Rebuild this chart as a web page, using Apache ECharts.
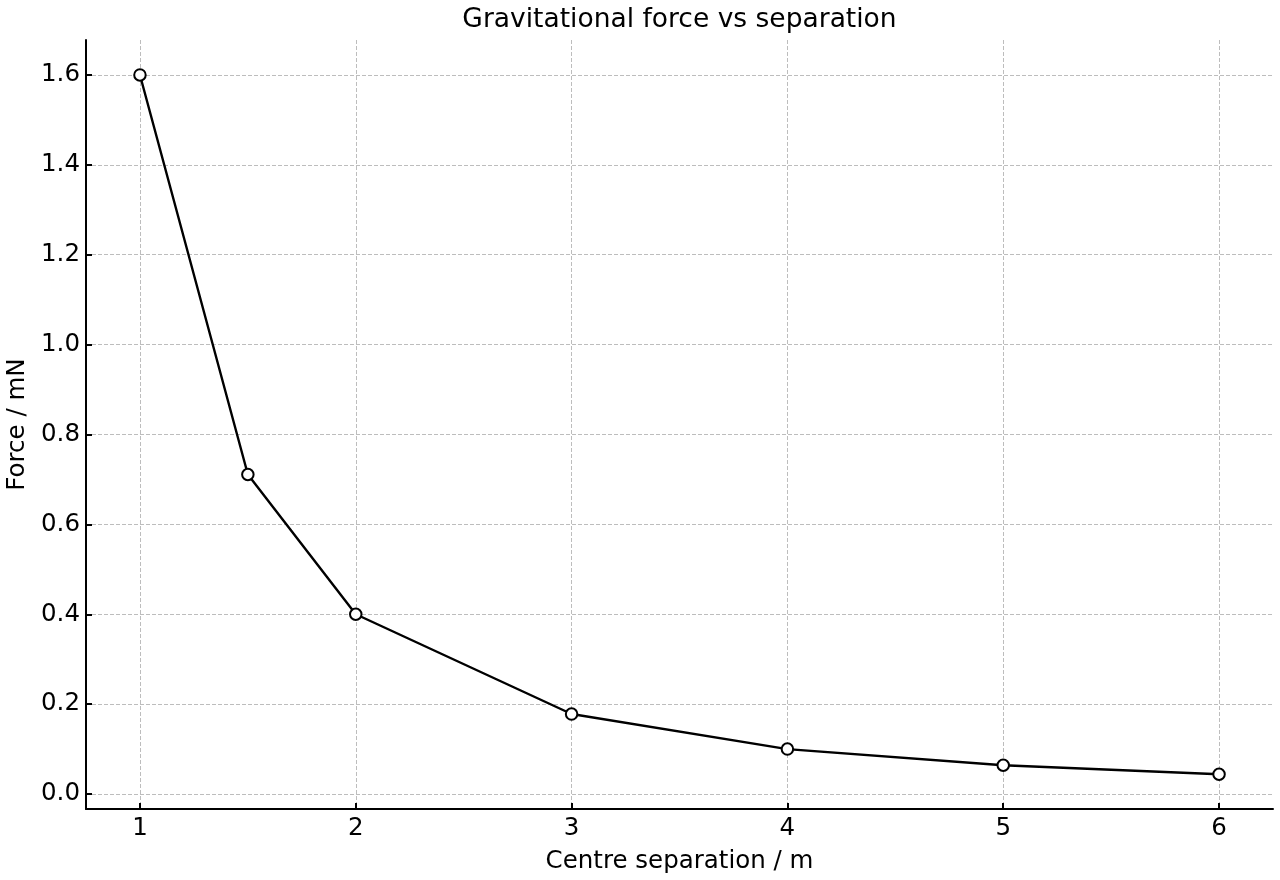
<!DOCTYPE html>
<html>
<head>
<meta charset="utf-8">
<script src="https://cdn.jsdelivr.net/npm/echarts@6/dist/echarts.min.js"></script>
<style>
html,body{margin:0;padding:0;background:#fff;}
#chart{width:1280px;height:880px;}
</style>
</head>
<body>
<div id="chart"></div>
<script>
var separation = [1, 1.5, 2, 3, 4, 5, 6];
var force = [1.6, 0.711, 0.4, 0.178, 0.1, 0.064, 0.044];
var xTicks = [1, 2, 3, 4, 5, 6];
var yTicks = [0, 0.2, 0.4, 0.6, 0.8, 1.0, 1.2, 1.4, 1.6];
var titleText = 'Gravitational force vs separation';
var xName = 'Centre separation / m';
var yName = 'Force / mN';

var FONT = 'DejaVu Sans';
var chart = echarts.init(document.getElementById('chart'), null, {renderer: 'canvas'});
var gridStyle = {show: true, lineStyle: {color: '#bdbdbd', width: 1, type: [4, 2]}};
chart.setOption({
  animation: false,
  backgroundColor: '#ffffff',
  title: {
    text: titleText,
    left: 679.5,
    textAlign: 'center',
    top: 7,
    padding: 0,
    textStyle: {fontFamily: FONT, fontSize: 26.5, fontWeight: 'normal', color: '#000'}
  },
  grid: {left: 86, right: 7, top: 40, bottom: 71, containLabel: false, outerBoundsMode: 'none'},
  xAxis: {
    type: 'value',
    min: 0.75,
    max: 6.25,
    name: xName,
    nameLocation: 'middle',
    nameGap: 40,
    nameTextStyle: {fontFamily: FONT, fontSize: 24.5, color: '#000'},
    axisLine: {show: true, onZero: false, lineStyle: {color: '#000', width: 2}},
    axisTick: {show: true, inside: true, length: 6, customValues: xTicks, lineStyle: {color: '#000', width: 2}},
    axisLabel: {show: true, customValues: xTicks, margin: 7, fontFamily: FONT, fontSize: 24.5, color: '#000',
      formatter: function (v) { return String(v); }},
    splitLine: gridStyle
  },
  yAxis: {
    type: 'value',
    min: -0.03333,
    max: 1.67778,
    name: yName,
    nameLocation: 'middle',
    nameGap: 53,
    nameTextStyle: {fontFamily: FONT, fontSize: 24.5, color: '#000'},
    axisLine: {show: true, onZero: false, lineStyle: {color: '#000', width: 2}},
    axisTick: {show: true, inside: true, length: 6, customValues: yTicks, lineStyle: {color: '#000', width: 2}},
    axisLabel: {show: true, customValues: yTicks, margin: 6, fontFamily: FONT, fontSize: 24.5, color: '#000',
      formatter: function (v) { return v.toFixed(1); }},
    splitLine: gridStyle
  },
  series: [{
    type: 'line',
    data: separation.map(function (x, i) { return [x, force[i]]; }),
    symbol: 'circle',
    symbolSize: 11.5,
    showSymbol: true,
    lineStyle: {color: '#000', width: 2.4},
    itemStyle: {color: '#fff', borderColor: '#000', borderWidth: 2},
    z: 3
  }]
});
</script>
</body>
</html>
